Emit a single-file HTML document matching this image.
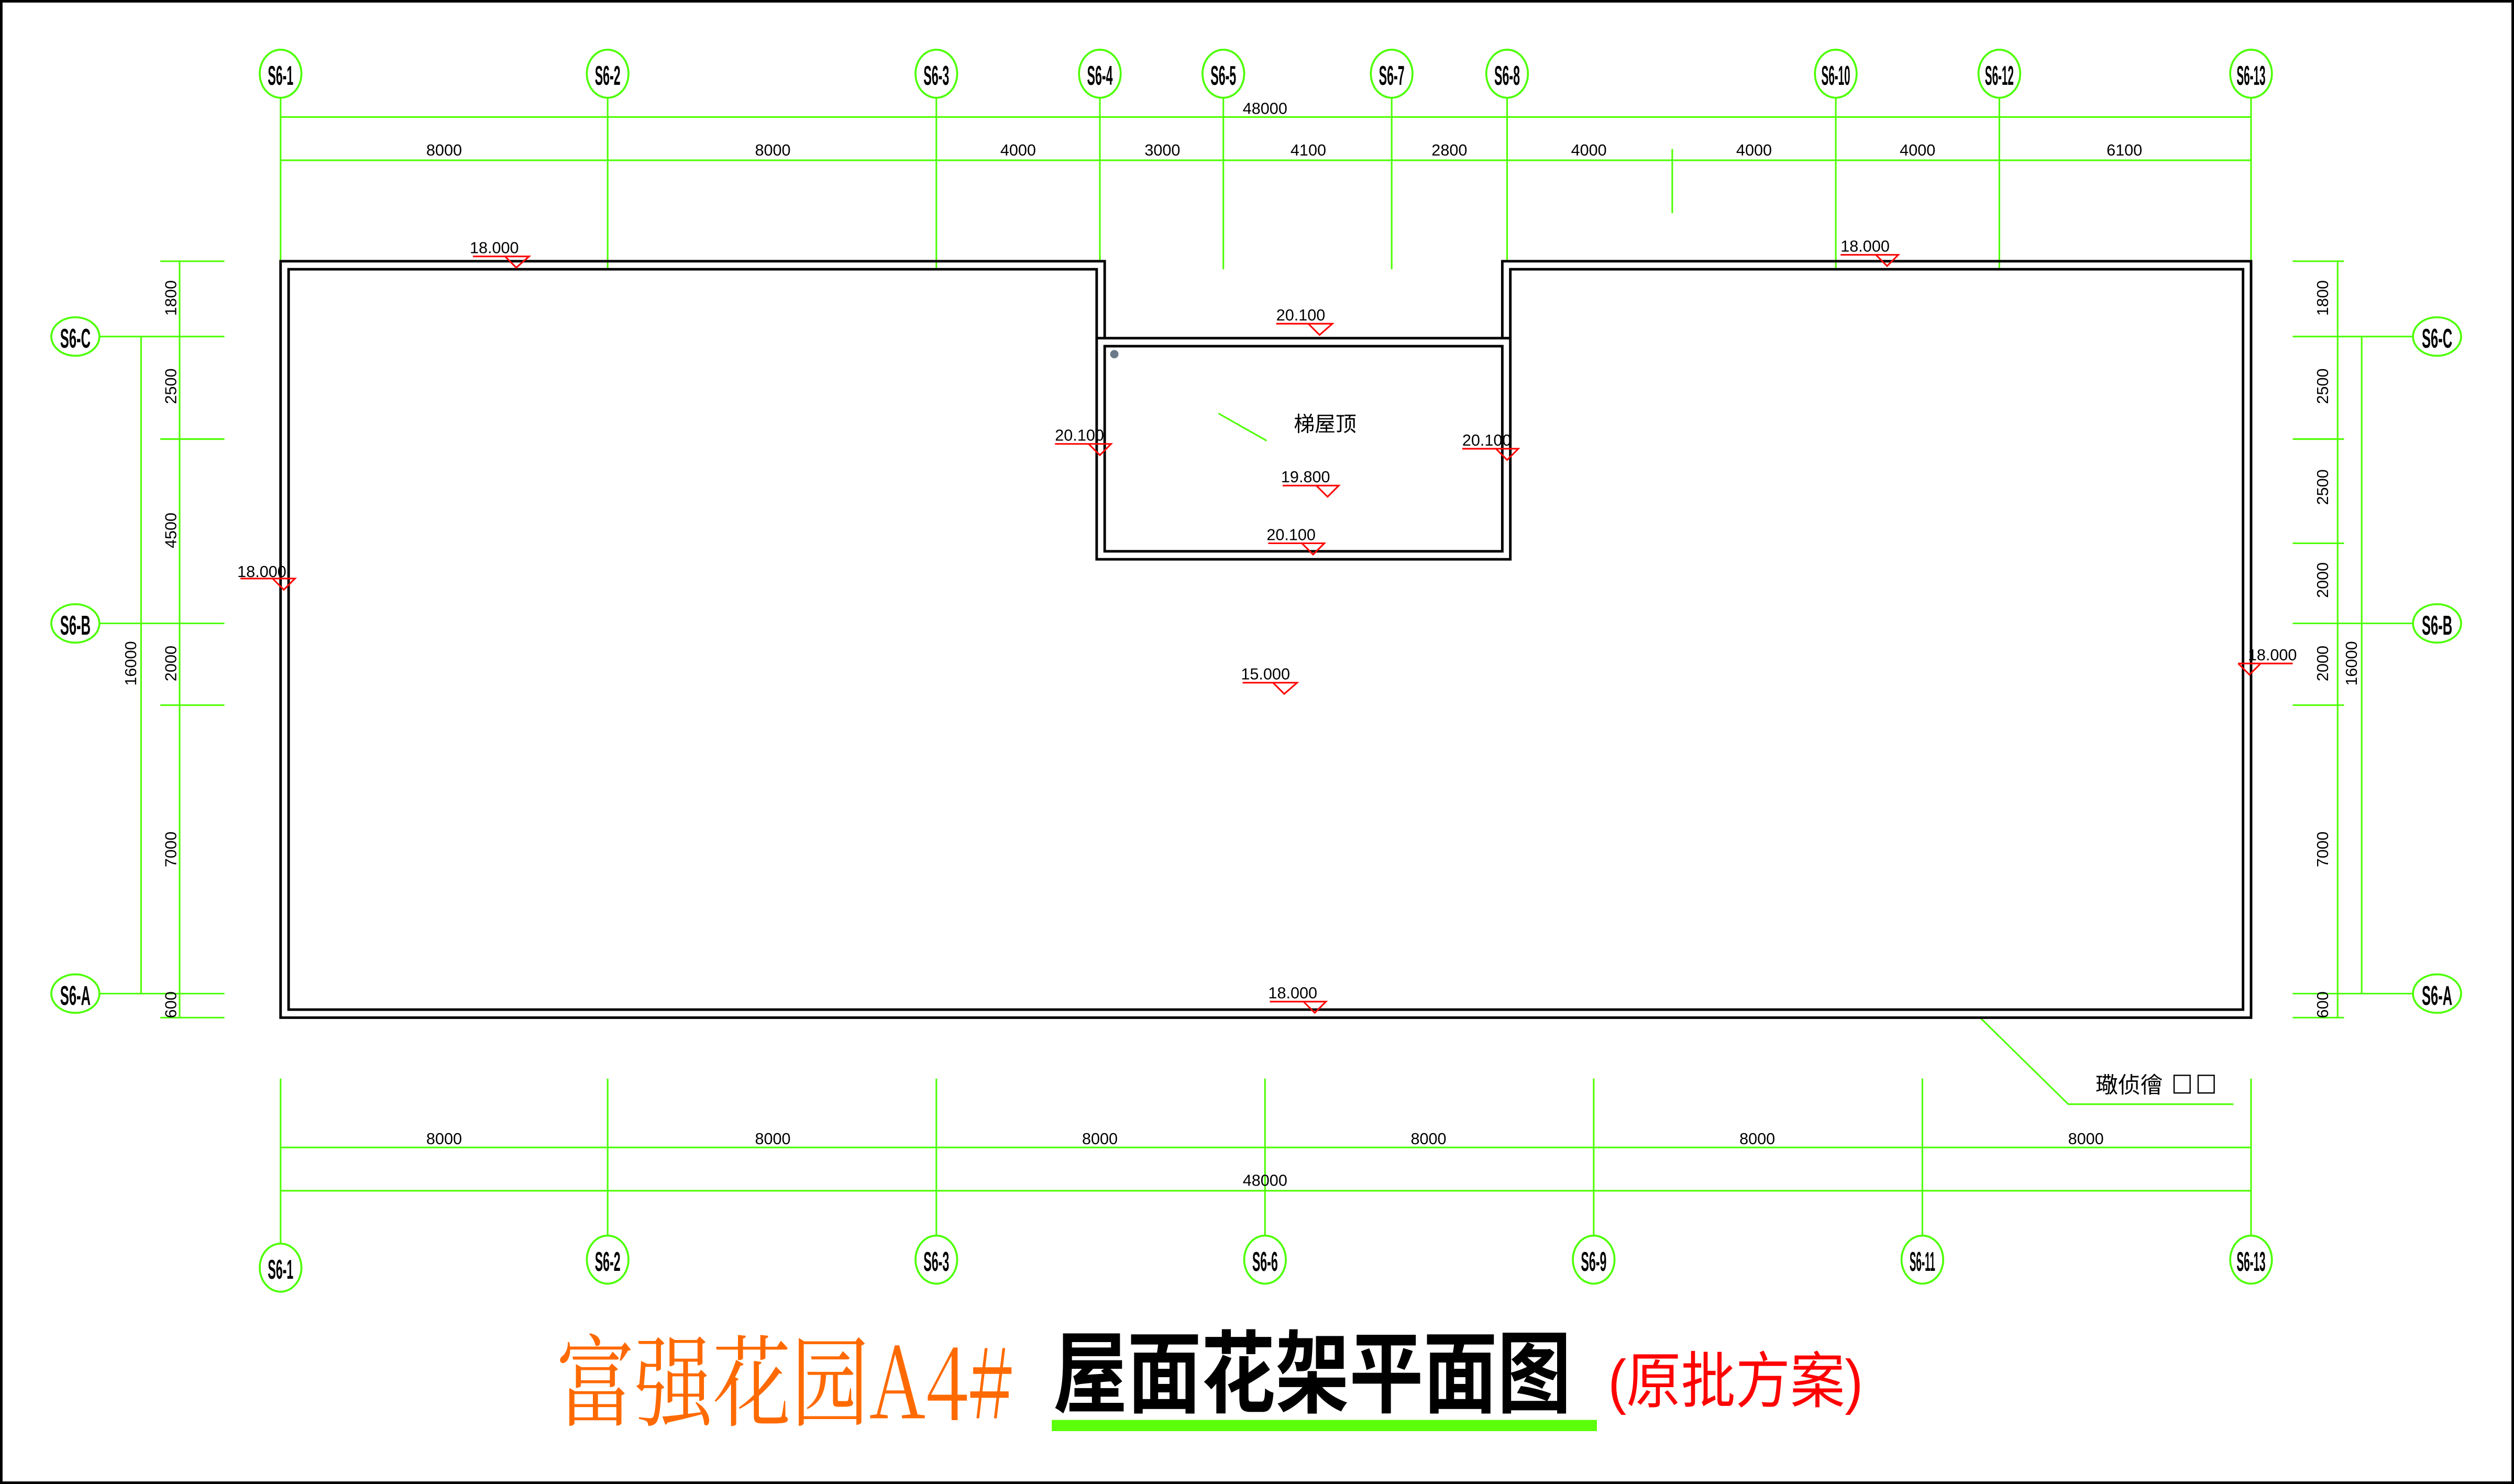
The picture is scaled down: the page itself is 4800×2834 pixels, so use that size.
<!DOCTYPE html>
<html><head><meta charset="utf-8"><style>
html,body{margin:0;padding:0;background:#fff;}
svg{display:block;}
text{font-family:"Liberation Sans","Noto Sans CJK SC",sans-serif;}
</style></head><body>
<svg width="4800" height="2834" viewBox="0 0 1568 926" preserveAspectRatio="none" xmlns="http://www.w3.org/2000/svg">
<rect x="0" y="0" width="1568" height="926" fill="#fff"/>
<rect x="0.8" y="0.8" width="1566.4" height="924.4" fill="none" stroke="#000" stroke-width="1.6"/>

<g stroke="#4cff00" stroke-width="1" fill="none">
  <line x1="175" y1="73" x2="1404" y2="73"/>
  <line x1="175" y1="100" x2="1404" y2="100"/>
  <line x1="175" y1="61" x2="175" y2="163"/>
  <line x1="379" y1="61" x2="379" y2="168"/>
  <line x1="584" y1="61" x2="584" y2="168"/>
  <line x1="686" y1="61" x2="686" y2="163"/>
  <line x1="763" y1="61" x2="763" y2="168"/>
  <line x1="868" y1="61" x2="868" y2="168"/>
  <line x1="940" y1="61" x2="940" y2="163"/>
  <line x1="1043" y1="93" x2="1043" y2="133"/>
  <line x1="1145" y1="61" x2="1145" y2="168"/>
  <line x1="1247" y1="61" x2="1247" y2="168"/>
  <line x1="1404" y1="61" x2="1404" y2="168"/>
  <line x1="175" y1="716" x2="1404" y2="716"/>
  <line x1="175" y1="743" x2="1404" y2="743"/>
  <line x1="175" y1="673" x2="175" y2="776"/>
  <line x1="379" y1="673" x2="379" y2="771"/>
  <line x1="584" y1="673" x2="584" y2="771"/>
  <line x1="789" y1="673" x2="789" y2="771"/>
  <line x1="994" y1="673" x2="994" y2="771"/>
  <line x1="1199" y1="673" x2="1199" y2="771"/>
  <line x1="1404" y1="673" x2="1404" y2="771"/>
  <line x1="112" y1="163" x2="112" y2="635"/>
  <line x1="88" y1="210" x2="88" y2="620"/>
  <line x1="100" y1="163" x2="140" y2="163"/>
  <line x1="62" y1="210" x2="140" y2="210"/>
  <line x1="100" y1="274" x2="140" y2="274"/>
  <line x1="62" y1="389" x2="140" y2="389"/>
  <line x1="100" y1="440" x2="140" y2="440"/>
  <line x1="62" y1="620" x2="140" y2="620"/>
  <line x1="100" y1="635" x2="140" y2="635"/>
  <line x1="1458" y1="163" x2="1458" y2="635"/>
  <line x1="1473" y1="210" x2="1473" y2="620"/>
  <line x1="1430" y1="163" x2="1462" y2="163"/>
  <line x1="1430" y1="210" x2="1505" y2="210"/>
  <line x1="1430" y1="274" x2="1462" y2="274"/>
  <line x1="1430" y1="339" x2="1462" y2="339"/>
  <line x1="1430" y1="389" x2="1505" y2="389"/>
  <line x1="1430" y1="440" x2="1462" y2="440"/>
  <line x1="1430" y1="620" x2="1505" y2="620"/>
  <line x1="1430" y1="635" x2="1462" y2="635"/>
  <polyline points="1235,635 1290,689 1393,689"/>
  <line x1="790" y1="275" x2="760" y2="258"/>
  <g stroke-width="1.2">
  <ellipse cx="175" cy="46" rx="13" ry="15"/><ellipse cx="379" cy="46" rx="13" ry="15"/>
  <ellipse cx="584" cy="46" rx="13" ry="15"/><ellipse cx="686" cy="46" rx="13" ry="15"/>
  <ellipse cx="763" cy="46" rx="13" ry="15"/><ellipse cx="868" cy="46" rx="13" ry="15"/>
  <ellipse cx="940" cy="46" rx="13" ry="15"/><ellipse cx="1145" cy="46" rx="13" ry="15"/>
  <ellipse cx="1247" cy="46" rx="13" ry="15"/><ellipse cx="1404" cy="46" rx="13" ry="15"/>
  <ellipse cx="175" cy="791" rx="13" ry="15"/><ellipse cx="379" cy="786" rx="13" ry="15"/>
  <ellipse cx="584" cy="786" rx="13" ry="15"/><ellipse cx="789" cy="786" rx="13" ry="15"/>
  <ellipse cx="994" cy="786" rx="13" ry="15"/><ellipse cx="1199" cy="786" rx="13" ry="15"/>
  <ellipse cx="1404" cy="786" rx="13" ry="15"/>
  <ellipse cx="47" cy="210" rx="15" ry="12"/><ellipse cx="47" cy="389" rx="15" ry="12"/>
  <ellipse cx="47" cy="620" rx="15" ry="12"/>
  <ellipse cx="1520" cy="210" rx="15" ry="12"/><ellipse cx="1520" cy="389" rx="15" ry="12"/>
  <ellipse cx="1520" cy="620" rx="15" ry="12"/>
  </g>
</g>

<!-- building -->
<g stroke="#000" fill="none" stroke-width="1.6">
  <polyline points="689,211 689,163 175,163 175,635 1404,635 1404,163 937,163 937,211"/>
  <polyline points="684,211 684,168 180,168 180,630 1399,630 1399,168 942,168 942,211"/>
  <rect x="684" y="211" width="258" height="138"/>
  <rect x="689" y="216" width="248" height="128"/>
</g>
<circle cx="695" cy="221" r="2.6" fill="#6a7a88"/>

<g font-size="17" font-weight="bold" fill="#000" text-anchor="middle">
  <text x="175" y="53" textLength="16" lengthAdjust="spacingAndGlyphs">S6-1</text>
  <text x="379" y="53" textLength="16" lengthAdjust="spacingAndGlyphs">S6-2</text>
  <text x="584" y="53" textLength="16" lengthAdjust="spacingAndGlyphs">S6-3</text>
  <text x="686" y="53" textLength="16" lengthAdjust="spacingAndGlyphs">S6-4</text>
  <text x="763" y="53" textLength="16" lengthAdjust="spacingAndGlyphs">S6-5</text>
  <text x="868" y="53" textLength="16" lengthAdjust="spacingAndGlyphs">S6-7</text>
  <text x="940" y="53" textLength="16" lengthAdjust="spacingAndGlyphs">S6-8</text>
  <text x="1145" y="53" textLength="18" lengthAdjust="spacingAndGlyphs">S6-10</text>
  <text x="1247" y="53" textLength="18" lengthAdjust="spacingAndGlyphs">S6-12</text>
  <text x="1404" y="53" textLength="18" lengthAdjust="spacingAndGlyphs">S6-13</text>
  <text x="175" y="798" textLength="16" lengthAdjust="spacingAndGlyphs">S6-1</text>
  <text x="379" y="793" textLength="16" lengthAdjust="spacingAndGlyphs">S6-2</text>
  <text x="584" y="793" textLength="16" lengthAdjust="spacingAndGlyphs">S6-3</text>
  <text x="789" y="793" textLength="16" lengthAdjust="spacingAndGlyphs">S6-6</text>
  <text x="994" y="793" textLength="16" lengthAdjust="spacingAndGlyphs">S6-9</text>
  <text x="1199" y="793" textLength="16" lengthAdjust="spacingAndGlyphs">S6-11</text>
  <text x="1404" y="793" textLength="18" lengthAdjust="spacingAndGlyphs">S6-13</text>
  <text x="47" y="217" textLength="19" lengthAdjust="spacingAndGlyphs">S6-C</text>
  <text x="47" y="396" textLength="19" lengthAdjust="spacingAndGlyphs">S6-B</text>
  <text x="47" y="627" textLength="19" lengthAdjust="spacingAndGlyphs">S6-A</text>
  <text x="1520" y="217" textLength="19" lengthAdjust="spacingAndGlyphs">S6-C</text>
  <text x="1520" y="396" textLength="19" lengthAdjust="spacingAndGlyphs">S6-B</text>
  <text x="1520" y="627" textLength="19" lengthAdjust="spacingAndGlyphs">S6-A</text>
</g>

<g font-size="10" fill="#000" text-anchor="middle">
  <text x="789" y="71">48000</text>
  <text x="277" y="97">8000</text><text x="482" y="97">8000</text>
  <text x="635" y="97">4000</text><text x="725" y="97">3000</text>
  <text x="816" y="97">4100</text><text x="904" y="97">2800</text>
  <text x="991" y="97">4000</text><text x="1094" y="97">4000</text>
  <text x="1196" y="97">4000</text><text x="1325" y="97">6100</text>
  <text x="277" y="714">8000</text><text x="482" y="714">8000</text>
  <text x="686" y="714">8000</text><text x="891" y="714">8000</text>
  <text x="1096" y="714">8000</text><text x="1301" y="714">8000</text>
  <text x="789" y="740">48000</text>
  <g transform="translate(110,186) rotate(-90)"><text>1800</text></g>
  <g transform="translate(110,241) rotate(-90)"><text>2500</text></g>
  <g transform="translate(110,331) rotate(-90)"><text>4500</text></g>
  <g transform="translate(110,414) rotate(-90)"><text>2000</text></g>
  <g transform="translate(110,530) rotate(-90)"><text>7000</text></g>
  <g transform="translate(110,627) rotate(-90)"><text>600</text></g>
  <g transform="translate(85,414) rotate(-90)"><text>16000</text></g>
  <g transform="translate(1452,186) rotate(-90)"><text>1800</text></g>
  <g transform="translate(1452,241) rotate(-90)"><text>2500</text></g>
  <g transform="translate(1452,304) rotate(-90)"><text>2500</text></g>
  <g transform="translate(1452,362) rotate(-90)"><text>2000</text></g>
  <g transform="translate(1452,414) rotate(-90)"><text>2000</text></g>
  <g transform="translate(1452,530) rotate(-90)"><text>7000</text></g>
  <g transform="translate(1452,627) rotate(-90)"><text>600</text></g>
  <g transform="translate(1470,414) rotate(-90)"><text>16000</text></g>
</g>

<g font-size="10" fill="#000">
  <text x="293" y="158">18.000</text>
  <text x="1148" y="157">18.000</text>
  <text x="796" y="200">20.100</text>
  <text x="658" y="275">20.100</text>
  <text x="912" y="278">20.100</text>
  <text x="799" y="301">19.800</text>
  <text x="790" y="337">20.100</text>
  <text x="148" y="360">18.000</text>
  <text x="774" y="424">15.000</text>
  <text x="1402" y="412">18.000</text>
  <text x="791" y="623">18.000</text>
</g>
<g stroke="#ff0000" stroke-width="1" fill="none">
  <path d="M295,160 H330 L322,167 L315,160"/>
  <path d="M1148,159 H1184 L1177,166 L1170,159"/>
  <path d="M796,202 H831 L823,209 L816,202"/>
  <path d="M658,277 H693 L686,284 L679,277"/>
  <path d="M912,280 H947 L940,287 L933,280"/>
  <path d="M800,303 H835 L828,310 L821,303"/>
  <path d="M791,339 H826 L819,346 L812,339"/>
  <path d="M150,361 H184 L177,368 L170,361"/>
  <path d="M775,426 H809 L801,433 L794,426"/>
  <path d="M1396,414 H1430 M1410,414 L1403,421 L1396,414"/>
  <path d="M792,625 H827 L820,632 L813,625"/>
</g>

<text x="807" y="269" font-size="13" fill="#000">梯屋顶</text>
<text x="1307" y="682" font-size="14" fill="#000">璥侦徻</text>
<rect x="1356" y="671" width="10" height="11" fill="none" stroke="#000" stroke-width="0.8"/>
<rect x="1371" y="671" width="10" height="11" fill="none" stroke="#000" stroke-width="0.8"/>

<text x="347" y="885" font-size="62" fill="#ff6a00" textLength="285" lengthAdjust="spacingAndGlyphs" style="font-family:'Noto Serif CJK SC','Liberation Serif',serif;font-weight:normal">富强花园A4#</text>
<text x="657" y="877" font-size="56" font-weight="bold" fill="#000" textLength="323" lengthAdjust="spacingAndGlyphs">屋面花架平面图</text>
<rect x="656" y="886" width="340" height="7" fill="#5cff0a"/>
<text x="1003" y="875" font-size="38" fill="#ff0000" textLength="159" lengthAdjust="spacingAndGlyphs">(原批方案)</text>
</svg>
</body></html>
